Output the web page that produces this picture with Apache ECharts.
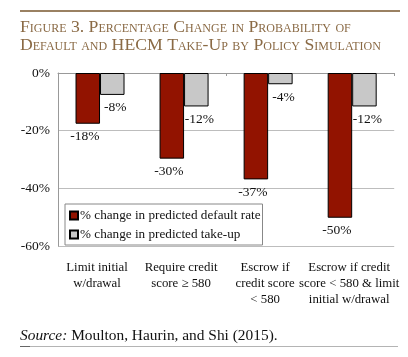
<!DOCTYPE html>
<html><head><meta charset="utf-8">
<script src="https://cdn.jsdelivr.net/npm/echarts@6/dist/echarts.min.js"></script>
<style>html,body{margin:0;padding:0;background:#fff}#c{width:408px;height:357px}</style>
</head><body><div id="c"></div>
<script>
const titleLines = ["Figure 3. Percentage Change in Probability of", "Default and HECM Take-Up by Policy Simulation"];
const categories = ["Limit initial\nw/drawal", "Require credit\nscore \u2265 580", "Escrow if\ncredit score\n< 580", "Escrow if credit\nscore < 580 & limit\ninitial w/drawal"];
const seriesNames = ["% change in predicted default rate", "% change in predicted take-up"];
const defaultRate = [-17.6, -29.7, -36.9, -50.2];
const takeUp = [-7.6, -11.6, -3.9, -11.6];
const yTicks = { min: -60, max: 0, interval: 20 };
const sourceItalic = "Source:";
const sourceRest = " Moulton, Haurin, and Shi (2015).";

const SERIF = '"Liberation Serif", "DejaVu Serif", serif';
const chart = echarts.init(document.getElementById('c'), null, { renderer: 'canvas' });
const lbl = (off) => ({
  show: true, position: 'bottom', distance: 6, offset: [off, 0],
  fontFamily: SERIF, fontSize: 13.5, color: '#111',
  formatter: p => Math.round(p.value) + '%'
});
chart.setOption({
  animation: false,
  backgroundColor: '#fff',
  grid: { left: 58, right: 11, top: 73, bottom: 111, containLabel: false },
  xAxis: [
    { type: 'category', data: categories, position: 'top',
      axisLine: { show: true, lineStyle: { color: '#999', width: 1 } },
      axisTick: { show: true, inside: true, length: 3, lineStyle: { color: '#999' } },
      axisLabel: { show: false } },
    { type: 'category', data: categories, position: 'bottom', gridIndex: 0,
      axisLine: { show: false }, axisTick: { show: false },
      axisLabel: { show: true, interval: 0, margin: 14, fontFamily: SERIF, fontSize: 12.8, lineHeight: 16, color: '#111', align: 'center', padding: [0, 6, 0, 0] } }
  ],
  yAxis: {
    type: 'value', min: yTicks.min, max: yTicks.max, interval: yTicks.interval,
    axisLine: { show: true, lineStyle: { color: '#999' } },
    axisTick: { show: false },
    splitLine: { show: true, lineStyle: { color: '#bdbdbd', width: 1 } },
    axisLabel: { formatter: '{value}%', margin: 8, fontFamily: SERIF, fontSize: 13.5, color: '#111' }
  },
  legend: {
    orient: 'vertical', left: 65, top: 204,
    itemWidth: 8, itemHeight: 8, itemGap: 6,
    padding: [5, 2, 4, 4],
    borderColor: '#888', borderWidth: 1, backgroundColor: '#fff',
    icon: 'rect',
    textStyle: { fontFamily: SERIF, fontSize: 13.2, color: '#111', padding: [0, 0, 0, -3] },
    data: seriesNames
  },
  series: [
    { name: seriesNames[0], type: 'bar', data: defaultRate, barWidth: 24.5, barGap: '0%',
      itemStyle: { color: '#921300', borderColor: '#000', borderWidth: 1 }, label: lbl(-3) },
    { name: seriesNames[1], type: 'bar', data: takeUp, barWidth: 24.5, barGap: '0%',
      itemStyle: { color: '#c8c8c8', borderColor: '#000', borderWidth: 1 }, label: lbl(3) }
  ],
  graphic: [
    { type: 'rect', shape: { x: 20, y: 10, width: 380, height: 2 }, style: { fill: '#9a8162' }, silent: true },
    { type: 'text', left: 20, top: 18, style: { text: titleLines[0], font: 'small-caps 17.7px ' + SERIF, fill: '#8a6a45' } },
    { type: 'text', left: 20, top: 36, style: { text: titleLines[1], font: 'small-caps 17.7px ' + SERIF, fill: '#8a6a45' } },
    { type: 'text', left: 20, top: 328, style: {
        text: '{i|' + sourceItalic + '}{n|' + sourceRest + '}',
        rich: { i: { fontStyle: 'italic', fontFamily: SERIF, fontSize: 15.4, fill: '#111', color: '#111' },
                n: { fontFamily: SERIF, fontSize: 15.4, fill: '#111', color: '#111' } } } },
    { type: 'rect', shape: { x: 20, y: 346, width: 378, height: 1 }, style: { fill: '#b4b4b4' }, silent: true },
    { type: 'rect', shape: { x: 20, y: 346, width: 10, height: 1 }, style: { fill: '#666' }, silent: true }
  ]
});
</script></body></html>
